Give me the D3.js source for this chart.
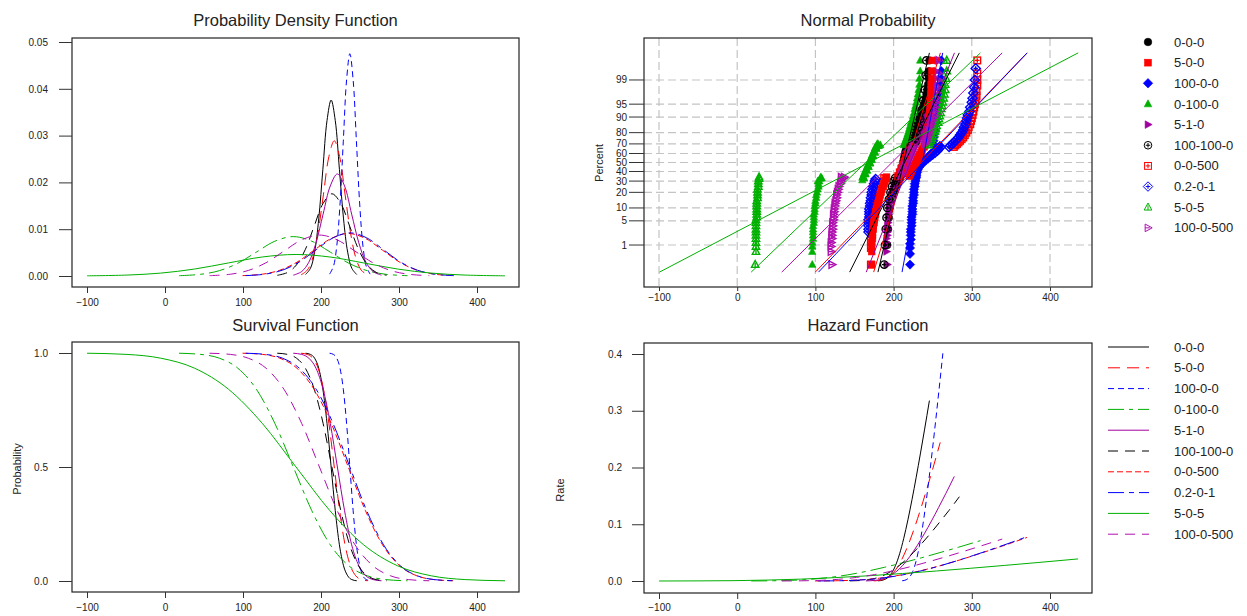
<!DOCTYPE html>
<html>
<head>
<meta charset="utf-8">
<script src="https://cdn.jsdelivr.net/npm/d3@7"></script>
<style>
  body { margin: 0; background: #fff; }
  svg text { font-family: "Liberation Sans", Arial, sans-serif; fill: #222; }
</style>
</head>
<body>
<svg id="chart" width="1247" height="616"></svg>
<script>
const seriesNames = ["0-0-0", "5-0-0", "100-0-0", "0-100-0", "5-1-0", "100-100-0", "0-0-500", "0.2-0-1", "5-0-5", "100-0-500"];
const seriesColors = ["#000000", "#ff0000", "#0000ff", "#00b000", "#a000a0", "#000000", "#ff0000", "#0000ff", "#00b000", "#b010b0"];
const seriesDash = [null, "12,7", "6,4", "16,5,4,5", null, "10,7", "6,3", "16,5,5,5", null, "10,7"];
const seriesMarkers = ["dot", "square", "diamond", "tri", "rtri", "circlePlus", "squarePlus", "diamondPlus", "triOpen", "rtriOpen"];
// order in which the point clouds are stacked on the probability plot
const pointOrder = [0, 2, 3, 4, 5, 6, 7, 1, 8, 9];

// x positions where each curve was read (shared by pdf, survival and hazard panels)
const curveX = [
  [180.2, 186.5, 191.8, 197.1, 202.4, 207.7, 213, 218.3, 223.6, 228.9, 234.2, 239.5, 245.8],
  [174.4, 182.5, 189.4, 196.3, 203.2, 210.1, 217, 223.9, 230.8, 237.7, 244.6, 251.5, 259.6],
  [211.0, 216.0, 220.2, 224.4, 228.6, 232.8, 237, 241.2, 245.4, 249.6, 253.8, 258.0, 263.0],
  [18.0, 46.0, 69.7, 93.4, 117.1, 140.8, 164.5, 188.2, 211.9, 235.6, 259.3, 283.0, 311.0],
  [164.5, 175.3, 184.4, 193.6, 202.7, 211.9, 221, 230.2, 239.3, 248.5, 257.6, 266.8, 277.6],
  [143.9, 157.3, 168.6, 180.0, 191.3, 202.7, 214, 225.4, 236.7, 248.1, 259.4, 270.8, 284.1],
  [99.4, 125.3, 147.2, 169.2, 191.1, 213.1, 235, 257.0, 278.9, 300.9, 322.8, 344.8, 370.7],
  [103.5, 129.0, 150.6, 172.2, 193.8, 215.4, 237, 258.6, 280.2, 301.8, 323.4, 345.0, 370.5],
  [-99.9, -48.8, -5.4, 38.0, 81.3, 124.7, 168, 211.4, 254.7, 298.1, 341.4, 384.8, 435.9],
  [57.1, 84.0, 106.8, 129.6, 152.4, 175.2, 198, 220.8, 243.6, 266.4, 289.2, 312.0, 338.9]
];

const pdfValues = [
  [0.00032, 0.00165, 0.0051, 0.0122, 0.0228, 0.0332, 0.0376, 0.0332, 0.0228, 0.0122, 0.0051, 0.00165, 0.00032],
  [0.00024, 0.00127, 0.0039, 0.0094, 0.0175, 0.0255, 0.0289, 0.0255, 0.0175, 0.0094, 0.0039, 0.00127, 0.00024],
  [0.0004, 0.00208, 0.0064, 0.0154, 0.0288, 0.0419, 0.0475, 0.0419, 0.0288, 0.0154, 0.0064, 0.00208, 0.0004],
  [0.00007, 0.00037, 0.00114, 0.00273, 0.0051, 0.00743, 0.00842, 0.00743, 0.0051, 0.00273, 0.00114, 0.00037, 0.00007],
  [0.00018, 0.00096, 0.00295, 0.00708, 0.01322, 0.01924, 0.0218, 0.01924, 0.01322, 0.00708, 0.00295, 0.00096, 0.00018],
  [0.00015, 0.00077, 0.00238, 0.0057, 0.01066, 0.01551, 0.01757, 0.01551, 0.01066, 0.0057, 0.00238, 0.00077, 0.00015],
  [0.00008, 0.0004, 0.00123, 0.00295, 0.00551, 0.00802, 0.00909, 0.00802, 0.00551, 0.00295, 0.00123, 0.0004, 0.00008],
  [0.00008, 0.00041, 0.00125, 0.003, 0.0056, 0.00815, 0.00923, 0.00815, 0.0056, 0.003, 0.00125, 0.00041, 0.00008],
  [0.00004, 0.0002, 0.00062, 0.00149, 0.00279, 0.00406, 0.0046, 0.00406, 0.00279, 0.00149, 0.00062, 0.0002, 0.00004],
  [0.00007, 0.00038, 0.00118, 0.00284, 0.00531, 0.00772, 0.00875, 0.00772, 0.00531, 0.00284, 0.00118, 0.00038, 0.00007]
];

// every survival curve passes these levels at the x positions above
const survivalLevels = [0.999, 0.9938, 0.9772, 0.9332, 0.8413, 0.6915, 0.5, 0.3085, 0.1587, 0.0668, 0.0228, 0.0062, 0.001];

const hazardValues = [
  [0.0003, 0.0017, 0.0052, 0.0131, 0.0271, 0.048, 0.0753, 0.1077, 0.1439, 0.1829, 0.2239, 0.2662, 0.3179],
  [0.0002, 0.0013, 0.004, 0.0101, 0.0208, 0.0369, 0.0578, 0.0827, 0.1105, 0.1405, 0.172, 0.2045, 0.2442],
  [0.0004, 0.0021, 0.0066, 0.0165, 0.0342, 0.0606, 0.095, 0.1358, 0.1816, 0.2308, 0.2825, 0.3359, 0.4012],
  [0.0001, 0.0004, 0.0012, 0.0029, 0.0061, 0.0107, 0.0168, 0.0241, 0.0322, 0.0409, 0.0501, 0.0595, 0.0711],
  [0.0002, 0.001, 0.003, 0.0076, 0.0157, 0.0278, 0.0436, 0.0624, 0.0833, 0.1059, 0.1297, 0.1542, 0.1842],
  [0.0002, 0.0008, 0.0024, 0.0061, 0.0127, 0.0224, 0.0352, 0.0503, 0.0672, 0.0854, 0.1046, 0.1243, 0.1485],
  [0.0001, 0.0004, 0.0013, 0.0032, 0.0066, 0.0116, 0.0182, 0.026, 0.0347, 0.0442, 0.0541, 0.0643, 0.0768],
  [0.0001, 0.0004, 0.0013, 0.0032, 0.0067, 0.0118, 0.0185, 0.0264, 0.0353, 0.0449, 0.0549, 0.0653, 0.078],
  [0, 0.0002, 0.0006, 0.0016, 0.0033, 0.0059, 0.0092, 0.0132, 0.0176, 0.0224, 0.0274, 0.0326, 0.0389],
  [0.0001, 0.0004, 0.0012, 0.003, 0.0063, 0.0112, 0.0175, 0.025, 0.0335, 0.0425, 0.052, 0.0619, 0.0739]
];

// fitted lines on the normal probability plot: x at 0.1 % and at 99.9 %
const fitLineP = [0.1, 99.9];
const fitLineX = [
  [180.0, 245.8], [174.5, 259.8], [210.8, 262.8], [17.9, 311.0], [165.0, 277.8],
  [143.8, 284.0], [99.8, 370.8], [104.0, 370.8], [-99.4, 436.0], [57.0, 338.8]
];

// plotted points [x, percent]
const probPoints = [
  // 0-0-0
  [[192,1],[193,3],[194,6],[195,10],[196,14],[198,18],[201,22],[204,26],[206,30],[208,33],
   [209,36],[209,38],[210,40],[210,42],[211,44],[211,46],[212,48],[212,50],[213,52],[213,54],[214,56],[214,58],[215,60],[215,62],[216,64],[217,66],[218,68],
   [220,70],[221,72],[222,74],[223,76],[224,78],[226,80],[227,82],[228,84],[230,86],[231,88],[233,89.5],[234,91],[236,92.5],[237,93.5],[238,94.5],[240,95.5],[241,96.5],[242,97.3],[243,98],[244,98.6],[245,99.1],[245,99.5],[246,99.8]],
  // 5-0-0
  [[172,0.2],[172,0.6],[172,0.9],[172,1.2],[173,1.6],[173,2],[173,2.5],[174,3],[174,3.7],[175,4.5],[175,5.3],[176,6.2],[177,7.2],[177,8.3],[178,9.5],[179,11],[180,12.5],[181,14],[182,16],[183,18],[184,20],[185,22.5],[187,25],[188,27.5],[189,30],[190,32.5],[191,34],
   [220,35],[221,37],[222,39],[223,41],[224,43],[225,45],[226,47],[228,49],[229,51],[230,53],[231,55],[232,57],[233,59],[235,61],[236,63],[237,65],[239,67],[240,69],
   [241,71],[241,73],[242,75],[242,77],[243,79],[243,81],[244,83],[244,85],[245,87],[245,89],[246,90.5],[246,92],[247,93.5],[247,94.5],[247,95.5],[248,96.5],[248,97.3],[248,98],[248,98.6],[249,99.1],[249,99.5],[249,99.8]],
  // 100-0-0
  [[221,0.2],[221,0.5],[221,0.8],[221,1.1],[222,1.5],[222,2],[222,2.5],[222,3],[223,3.7],[223,4.5],[223,5.3],[223,6.2],[224,7.2],[224,8.3],[224,9.5],[224,11],[225,12.5],[225,14],[225,16],[226,18],[226,20],[226,22.5],[227,25],[227,27.5],[228,30],[228,32.5],[229,34],
   [229,36],[230,39],[231,42],[233,45],[236,48],[239,51],[242,54],[245,57],[248,60],[251,62],[254,64],[257,66],[259,68],
   [250,70],[251,73],[251,76],[252,79],[253,82],[253,85],[254,87],[255,89],[256,91],[256,93],[257,94.5],[258,95.5],[259,96.5],[259,97.3],[260,98],[260,98.6],[261,99.1],[261,99.5],[261,99.8]],
  // 0-100-0
  [[96,0.2],[96,0.6],[96,0.9],[96,1.2],[97,1.6],[97,2],[97,2.5],[97,3],[97,3.7],[98,4.5],[98,5.3],[98,6.2],[98,7.2],[99,8.3],[99,9.5],[99,11],[100,12.5],[100,14],[101,16],[101,18],[102,20],[103,22.5],[104,25],[104,27.5],[105,30],[106,32.5],[107,34],[103,30],[108,33],
   [160,31],[162,33],[161,35],[164,37],[163,39],[166,41],[165,43],[168,45],[167,47],[170,49],[169,51],[172,53],[171,55],[174,57],[173,59],[176,61],[175,63],[178,65],[177,67],[181,68],[180,70],[183,69],
   [213,69],[214,71],[215,73],[216,75],[217,77],[218,79],[219,81],[220,83],[221,85],[222,87],[224,89],[225,90.5],[226,92],[227,93.5],[228,94.5],[229,95.5],[230,96.5],[231,97.3],[232,98],[233,98.6],[233,99.1],[234,99.5],[234,99.8]],
  // 5-1-0
  [[192,0.2],[191,0.6],[191,0.9],[191,1.2],[191,1.6],[192,2],[192,2.5],[192,3],[192,3.7],[193,4.5],[193,5.3],[193,6.2],[194,7.2],[194,8.3],[194,9.5],[195,11],[195,12.5],[196,14],[197,16],[197,18],[198,20],[199,22.5],[201,25],[202,27.5],[204,30],[205,32.5],[206,34],
   [207,36],[208,38],[209,40],[210,42],[211,44],[212,46],[213,48],[214,50],[215,52],[216,54],[217,56],[219,58],[220,60],[222,62],[223,64],[225,66],[227,68],
   [229,70],[231,72],[232,74],[234,76],[235,78],[236,80],[237,82],[238,84],[239,86],[241,88],[242,89.5],[243,91],[245,92.5],[246,93.5],[247,94.5],[248,95.5],[249,96.5],[251,97.3],[252,98],[253,98.6],[254,99.1],[255,99.5],[256,99.8]],
  // 100-100-0
  [[188,0.2],[189,1],[190,3],[191,6],[192,10],[194,15],[196,20],[198,25],[200,30],[202,33],
   [212,38],[214,44],[216,50],[218,56],[220,62],[222,68],
   [228,72],[230,78],[232,84],[234,89],[236,93],[238,96],[240,98],[241,99.3],[242,99.8]],
  // 0-0-500
  [[171,0.2],[171,0.8],[171,1.4],[172,2.2],[172,3.2],[173,4.5],[174,6],[175,8],[176,10],[177,12.5],[179,15],[180,18],[182,21],[184,25],[186,29],[188,33],
   [206,35],[208,39],[210,43],[212,47],[214,51],[216,55],[218,59],[220,63],[222,67],
   [277,67],[279,68.5],[281,70],[283,71.5],[285,73],[287,74.5],[289,76],[291,78],[293,80],[295,82],[296,84],[298,86],[299,88],[300,89.5],[301,91],[302,92.5],[303,94],[304,95],[305,96],[306,97],[306,97.8],[307,98.5],[307,99],[307,99.4],[307,99.8]],
  // 0.2-0-1
  [[168,2.5],[168,3],[168,3.7],[168,4.5],[168,5.3],[169,6.2],[169,7.2],[169,8.3],[169,9.5],[170,11],[170,12.5],[171,14],[171,16],[172,18],[172,20],[173,22.5],[174,25],[175,27.5],[176,30],[177,32],
   [226,36],[227,39],[228,42],[230,45],[232,47],[235,49],[238,51],[241,53],[244,55],[247,57],[250,59],[253,61],[256,63],[258,65],[260,67],
   [271,67],[273,68.5],[275,70],[277,71.5],[279,73],[281,74.5],[283,76],[285,78],[287,80],[289,82],[290,84],[292,86],[293,88],[294,89.5],[295,91],[297,92.5],[298,94],[300,95.5],[301,96.5],[302,97.5],[303,98.3],[304,99],[305,99.6]],
  // 5-0-5
  [[23,0.2],[24,0.6],[24,0.9],[24,1.2],[24,1.6],[24,2],[24,2.5],[24,3],[24,3.7],[24,4.5],[24,5.3],[25,6.2],[25,7.2],[25,8.3],[25,9.5],[25,11],[25,12.5],[25,14],[26,16],[26,18],[26,20],[26,22.5],[27,25],[27,27.5],[27,30],[28,32.5],[28,34],
   [161,34],[163,38],[165,42],[167,46],[169,50],[171,54],[173,58],[175,62],[177,66],[179,69],
   [245,69],[246,71],[248,73],[249,75],[250,77],[252,79],[253,81],[254,83],[255,85],[257,87],[258,89],[259,90.5],[260,92],[261,93.5],[262,94.5],[263,95.5],[264,96.5],[265,97.3],[266,98],[266,98.6],[267,99.1],[268,99.5],[268,99.8]],
  // 100-0-500
  [[121,0.2],[120,0.6],[120,0.9],[120,1.2],[121,1.6],[121,2],[121,2.5],[122,3],[122,3.7],[122,4.5],[123,5.3],[123,6.2],[123,7.2],[124,8.3],[124,9.5],[125,11],[125,12.5],[126,14],[127,16],[127,18],[128,20],[129,22.5],[130,25],[132,27.5],[133,30],[135,32.5],[137,34],[133,34],
   [210,36],[211,38],[212,40],[213,42],[214,44],[215,46],[216,48],[217,50],[218,52],[219,54],[220,56],[221,58],[222,60],[223,62],[224,64],[225,66],[226,68],
   [240,70],[241,72],[242,74],[243,76],[244,78],[245,80],[246,82],[247,84],[248,86],[249,88],[250,89.5],[251,91],[252,92.5],[253,94],[254,95.5],[255,96.5],[255,97.5],[256,98.3],[257,99],[257,99.4],[258,99.8]]
];

const xTicks = [-100, 0, 100, 200, 300, 400];
const pdfTicks = [0, 0.01, 0.02, 0.03, 0.04, 0.05];
const survTicks = [0, 0.5, 1];
const hazTicks = [0, 0.1, 0.2, 0.3, 0.4];
const percentTicks = [1, 5, 10, 20, 30, 40, 50, 60, 70, 80, 90, 95, 99];

const svg = d3.select("#chart");
const FONT = '"Liberation Sans", Arial, sans-serif';

// inverse of the normal cdf, used by the probability axis
function probit(p) {
  const a = [-39.69683028665376, 220.9460984245205, -275.9285104469687, 138.3577518672690, -30.66479806614716, 2.506628277459239];
  const b = [-54.47609879822406, 161.5858368580409, -155.6989798598866, 66.80131188771972, -13.28068155288572];
  const c = [-0.007784894002430293, -0.3223964580411365, -2.400758277161838, -2.549732539343734, 4.374664141464968, 2.938163982698783];
  const d = [0.007784695709041462, 0.3224671290700398, 2.445134137142996, 3.754408661907416];
  const pl = 0.02425;
  if (p < pl) {
    const q = Math.sqrt(-2 * Math.log(p));
    return (((((c[0]*q+c[1])*q+c[2])*q+c[3])*q+c[4])*q+c[5]) / ((((d[0]*q+d[1])*q+d[2])*q+d[3])*q+1);
  }
  if (p > 1 - pl) {
    const q = Math.sqrt(-2 * Math.log(1 - p));
    return -(((((c[0]*q+c[1])*q+c[2])*q+c[3])*q+c[4])*q+c[5]) / ((((d[0]*q+d[1])*q+d[2])*q+d[3])*q+1);
  }
  const q = p - 0.5, r = q * q;
  return (((((a[0]*r+a[1])*r+a[2])*r+a[3])*r+a[4])*r+a[5])*q / (((((b[0]*r+b[1])*r+b[2])*r+b[3])*r+b[4])*r+1);
}

function frame(box, title, titleY) {
  svg.append("rect")
    .attr("x", box.l).attr("y", box.t)
    .attr("width", box.r - box.l).attr("height", box.b - box.t)
    .attr("fill", "none").attr("stroke", "#222").attr("stroke-width", 1.2);
  svg.append("text")
    .attr("x", (box.l + box.r) / 2).attr("y", titleY)
    .attr("text-anchor", "middle").attr("font-size", 16.5)
    .text(title);
}

function styleAxis(g) {
  g.select(".domain").remove();
  g.selectAll("text").attr("font-size", 10).attr("font-family", FONT).attr("fill", "#222");
  g.selectAll("line").attr("stroke", "#333");
}

function xAxis(scale, y, size, pad) {
  svg.append("g")
    .attr("transform", `translate(0,${y})`)
    .call(d3.axisBottom(scale).tickValues(xTicks).tickSize(size).tickSizeOuter(0).tickPadding(pad))
    .call(styleAxis);
}

function yAxis(scale, x, ticks, fmt, size, pad) {
  svg.append("g")
    .attr("transform", `translate(${x},0)`)
    .call(d3.axisLeft(scale).tickValues(ticks).tickFormat(fmt).tickSize(size).tickSizeOuter(0).tickPadding(pad))
    .call(styleAxis);
}

function axisTitle(text, x, y) {
  svg.append("text")
    .attr("transform", `translate(${x},${y}) rotate(-90)`)
    .attr("text-anchor", "middle").attr("font-size", 11)
    .text(text);
}

function drawCurves(xs, ys, valuesFor, curve) {
  const line = d3.line().x(d => xs(d[0])).y(d => ys(d[1])).curve(curve);
  seriesNames.forEach((name, i) => {
    const pts = curveX[i].map((x, j) => [x, valuesFor(i)[j]]);
    svg.append("path")
      .attr("d", line(pts))
      .attr("fill", "none")
      .attr("stroke", seriesColors[i])
      .attr("stroke-width", 1)
      .attr("stroke-dasharray", seriesDash[i]);
  });
}

function marker(g, type, color, s, sw) {
  const tri = `M0,${-s * 1.1}L${s},${s * 0.75}L${-s},${s * 0.75}Z`;
  const rtri = `M${s * 1.1},0L${-s * 0.75},${s}L${-s * 0.75},${-s}Z`;
  const dia = `M0,${-s * 1.25}L${s * 1.25},0L0,${s * 1.25}L${-s * 1.25},0Z`;
  const plus = `M${-s * 0.6},0H${s * 0.6}M0,${-s * 0.6}V${s * 0.6}`;
  const filled = sel => sel.attr("fill", color).attr("stroke", color).attr("stroke-width", 0.6);
  const open = sel => sel.attr("fill", "none").attr("stroke", color).attr("stroke-width", sw);
  switch (type) {
    case "dot": g.append("circle").attr("r", s).call(filled); break;
    case "square": g.append("rect").attr("x", -s * 0.9).attr("y", -s * 0.9).attr("width", s * 1.8).attr("height", s * 1.8).call(filled); break;
    case "diamond": g.append("path").attr("d", dia).call(filled); break;
    case "tri": g.append("path").attr("d", tri).call(filled); break;
    case "rtri": g.append("path").attr("d", rtri).call(filled); break;
    case "circlePlus":
      g.append("circle").attr("r", s).call(open);
      g.append("path").attr("d", plus).call(open); break;
    case "squarePlus":
      g.append("rect").attr("x", -s * 0.9).attr("y", -s * 0.9).attr("width", s * 1.8).attr("height", s * 1.8).call(open);
      g.append("path").attr("d", plus).call(open); break;
    case "diamondPlus":
      g.append("path").attr("d", dia).call(open);
      g.append("path").attr("d", plus).call(open); break;
    case "triOpen":
      g.append("path").attr("d", tri).call(open);
      g.append("path").attr("d", `M0,${-s * 0.5}V${s * 0.75}`).call(open); break;
    case "rtriOpen":
      g.append("path").attr("d", rtri).call(open);
      g.append("path").attr("d", `M${-s * 0.75},0H${s * 0.5}`).call(open); break;
  }
}

// ---------- Probability Density Function ----------
const boxPdf = { l: 72, r: 519, t: 38, b: 287 };
const xPdf = d3.scaleLinear().domain([-100, 400]).range([87, 477]);
const yPdf = d3.scaleLinear().domain([0, 0.05]).range([276, 42]);
frame(boxPdf, "Probability Density Function", 26);
drawCurves(xPdf, yPdf, i => pdfValues[i], d3.curveCatmullRom);
xAxis(xPdf, boxPdf.b, 6, 5.5);
yAxis(yPdf, boxPdf.l, pdfTicks, d3.format(".2f"), 13, 11);

// ---------- Normal Probability ----------
const boxProb = { l: 644, r: 1092, t: 38, b: 287 };
const xProb = d3.scaleLinear().domain([-100, 400]).range([659, 1050]);
const zProb = d3.scaleLinear().domain([-3.51, 3.51]).range([287, 38]);
const yProb = p => zProb(probit(p / 100));

const grid = svg.append("g").attr("stroke", "#c4c4c4").attr("stroke-width", 1.2).attr("stroke-dasharray", "8,4");
xTicks.forEach(v => grid.append("line").attr("x1", xProb(v)).attr("x2", xProb(v)).attr("y1", boxProb.t).attr("y2", boxProb.b));
percentTicks.forEach(p => grid.append("line").attr("x1", boxProb.l).attr("x2", boxProb.r).attr("y1", yProb(p)).attr("y2", yProb(p)));

pointOrder.forEach(i => {
  const g = svg.append("g");
  probPoints[i].forEach(([x, p]) => {
    marker(g.append("g").attr("transform", `translate(${xProb(x)},${yProb(p)})`), seriesMarkers[i], seriesColors[i], 3.7, 1.4);
  });
});

fitLineX.forEach((xs, i) => {
  svg.append("line")
    .attr("x1", xProb(xs[0])).attr("y1", yProb(fitLineP[0]))
    .attr("x2", xProb(xs[1])).attr("y2", yProb(fitLineP[1]))
    .attr("stroke", seriesColors[i]).attr("stroke-width", 1);
});

frame(boxProb, "Normal Probability", 26);
xAxis(xProb, boxProb.b, 4, 3);
const probAxis = svg.append("g");
percentTicks.forEach(p => {
  probAxis.append("line").attr("x1", 629).attr("x2", boxProb.l).attr("y1", yProb(p)).attr("y2", yProb(p)).attr("stroke", "#333");
  probAxis.append("text").attr("x", 627).attr("y", yProb(p)).attr("dy", "0.35em")
    .attr("text-anchor", "end").attr("font-size", 10).text(p);
});
axisTitle("Percent", 603, 163);

// ---------- Survival Function ----------
const boxSurv = { l: 72, r: 519, t: 342, b: 592 };
const xSurv = d3.scaleLinear().domain([-100, 400]).range([87, 477]);
const ySurv = d3.scaleLinear().domain([0, 1]).range([581, 353]);
frame(boxSurv, "Survival Function", 331);
drawCurves(xSurv, ySurv, () => survivalLevels, d3.curveMonotoneX);
xAxis(xSurv, boxSurv.b, 6, 5.5);
yAxis(ySurv, boxSurv.l, survTicks, d3.format(".1f"), 13, 11);
axisTitle("Probability", 21, 469);

// ---------- Hazard Function ----------
const boxHaz = { l: 644, r: 1092, t: 343, b: 593 };
const xHaz = d3.scaleLinear().domain([-100, 400]).range([659, 1050]);
const yHaz = d3.scaleLinear().domain([0, 0.4]).range([581, 354]);
frame(boxHaz, "Hazard Function", 331);
drawCurves(xHaz, yHaz, i => hazardValues[i], d3.curveMonotoneX);
xAxis(xHaz, boxHaz.b, 6, 4.5);
yAxis(yHaz, boxHaz.l, hazTicks, d3.format(".1f"), 12, 10);
axisTitle("Rate", 564, 490);

// ---------- legends ----------
seriesNames.forEach((name, i) => {
  const y1 = 42 + i * 20.65;
  marker(svg.append("g").attr("transform", `translate(1148,${y1})`), seriesMarkers[i], seriesColors[i], 3.8, 1);
  svg.append("text").attr("x", 1174).attr("y", y1).attr("dy", "0.35em").attr("font-size", 13).text(name);

  const y2 = 347 + i * 20.8;
  svg.append("line").attr("x1", 1108).attr("x2", 1149).attr("y1", y2).attr("y2", y2)
    .attr("stroke", seriesColors[i]).attr("stroke-width", 1).attr("stroke-dasharray", seriesDash[i]);
  svg.append("text").attr("x", 1174).attr("y", y2).attr("dy", "0.35em").attr("font-size", 13).text(name);
});
</script>
</body>
</html>
